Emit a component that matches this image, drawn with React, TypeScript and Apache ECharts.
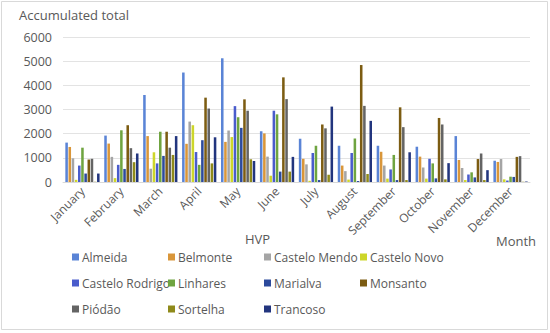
import React, { useEffect, useRef } from "react";
import * as echarts from "echarts";

const months = ["January","February","March","April","May","June","July","August","September","October","November","December"];
const seriesNames = ["Almeida","Belmonte","Castelo Mendo","Castelo Novo","Castelo Rodrigo","Linhares","Marialva","Monsanto","Piódão","Sortelha","Trancoso"];
const colors = ["#5a84d6","#d9963a","#a5a5a5","#cdd62a","#4a5ccc","#6fa440","#2c4a9c","#7c5c12","#646464","#8f8a1a","#22357e"];

const almeida =        [1630,1920,3600,4530,5120,2100,1790,1500,1500,1460,1900, 880];
const belmonte =       [1450,1590,1900,1580,1660,2010, 960, 680,1250,1050, 910, 830];
const casteloMendo =   [ 980,1040, 550,2500,2130,1050, 730, 450, 680, 600, 580, 950];
const casteloNovo =    [  90, 160,1230,2350,1860, 260,  50, 100, 140, 140,  80, 110];
const casteloRodrigo = [ 680, 710, 770,1240,3140,2950,1200,1200, 520, 960, 310,  60];
const linhares =       [1420,2140,2080, 710,2680,2800,1500,1800,1120, 770, 400, 220];
const marialva =       [ 350, 540,1080,1730,2240, 430,  80,  40,  80, 150, 190, 210];
const monsanto =       [ 930,2350,2080,3490,3420,4330,2380,4840,3090,2650, 950,1040];
const piodao =         [ 960,1400,1420,3040,2950,3430,2220,3150,2270,2380,1180,1070];
const sortelha =       [  10, 820,1120, 770, 940, 430, 300, 330,  80, 110,  80,  10];
const trancoso =       [ 350,1180,1900,1850, 870,1040,3120,2530,1230, 780, 490,  20];

const values = [almeida,belmonte,casteloMendo,casteloNovo,casteloRodrigo,linhares,marialva,monsanto,piodao,sortelha,trancoso];
const yTicks = [0,1000,2000,3000,4000,5000,6000];

const FONT = "Open Sans";

export default function App() {
  const ref = useRef<HTMLDivElement>(null);
  useEffect(() => {
    const chart = echarts.init(ref.current!, null, { renderer: "svg" });
    const legends = seriesNames.map((n, i) => ({
      data: [n],
      left: 72 + (i % 4) * 96,
      top: 251 + Math.floor(i / 4) * 26,
      itemWidth: 7,
      itemHeight: 7,
      icon: "rect",
      itemGap: 0,
      padding: 0,
      textStyle: { fontFamily: FONT, fontSize: 12, color: "#595959", padding: [0, 0, 0, -2] },
    }));
    chart.setOption({
      animation: false,
      color: colors,
      title: {
        text: "Accumulated total",
        left: 14,
        top: 3,
        textStyle: { fontFamily: FONT, fontSize: 13, fontWeight: "normal", color: "#595959" },
      },
      legend: legends,
      grid: { left: 63, right: 20, top: 37, bottom: 151 },
      xAxis: {
        type: "category",
        data: months,
        axisTick: { show: false },
        axisLine: { lineStyle: { color: "#d9d9d9" } },
        axisLabel: { rotate: 45, interval: 0, fontFamily: FONT, fontSize: 12, color: "#595959", margin: 7 },
      },
      yAxis: {
        type: "value",
        min: 0,
        max: 6000,
        interval: 1000,
        axisLabel: { fontFamily: FONT, fontSize: 12.5, color: "#595959", margin: 11,
          formatter: (v: number) => (yTicks.includes(v) ? String(v) : "") },
        splitLine: { lineStyle: { color: "#e3e3e3" } },
        axisLine: { show: false },
        axisTick: { show: false },
      },
      graphic: [
        { type: "rect", shape: { x: 1.5, y: 1.5, width: 546, height: 328 }, style: { fill: "none", stroke: "#d9d9d9", lineWidth: 1 }, silent: true },
        { type: "text", left: 245, top: 232, style: { text: "HVP", fontFamily: FONT, fontSize: 13, fill: "#595959" } },
        { type: "text", left: 496, top: 234, style: { text: "Month", fontFamily: FONT, fontSize: 13, fill: "#595959" } },
      ],
      series: seriesNames.map((n, i) => ({
        name: n,
        type: "bar",
        data: values[i],
        barGap: "25%",
        barCategoryGap: "12%",
      })),
    });
    return () => chart.dispose();
  }, []);
  return <div ref={ref} style={{ position: "fixed", left: 0, top: 0, width: 550, height: 333, background: "#fff" }} />;
}
